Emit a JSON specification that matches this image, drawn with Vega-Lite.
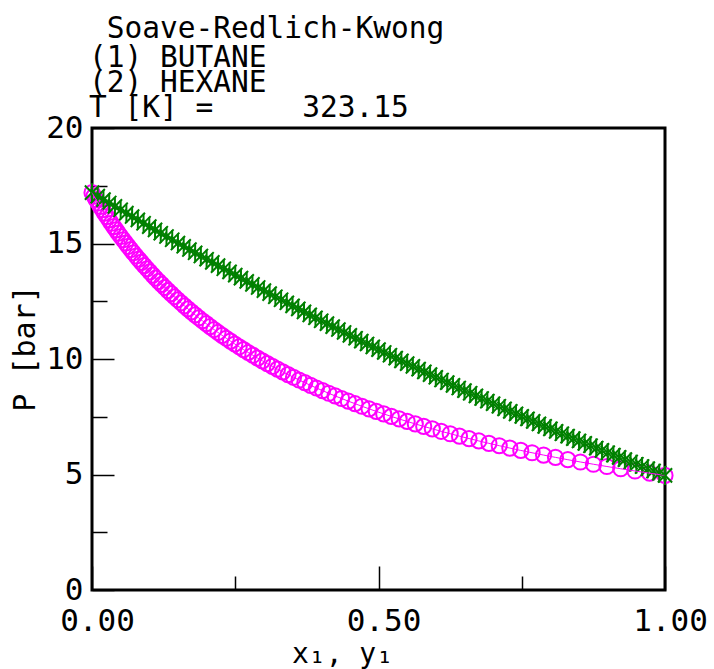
{
  "$schema": "https://vega.github.io/schema/vega-lite/v6.json",
  "width": 573,
  "height": 462,
  "autosize": {"type": "none"},
  "padding": {"left": 92, "top": 128, "right": 49, "bottom": 79},
  "background": "white",
  "title": {
    "text": "\u200b\u00a0Soave-Redlich-Kwong",
    "subtitle": ["(1) BUTANE", "(2) HEXANE", "T [K] =\u00a0\u00a0\u00a0\u00a0\u00a0323.15"],
    "anchor": "start",
    "frame": "group",
    "font": "DejaVu Sans Mono",
    "fontSize": 29.5,
    "fontWeight": "normal",
    "color": "black",
    "subtitleFont": "DejaVu Sans Mono",
    "subtitleFontSize": 29.5,
    "subtitleColor": "black",
    "subtitleLineHeight": 25,
    "subtitlePadding": -1,
    "offset": -11,
    "dx": -3
  },
  "datasets": {
    "bubble": [
      {"x1": 0.00, "P": 17.2}, {"x1": 0.01, "P": 17.051}, {"x1": 0.02, "P": 16.902}, {"x1": 0.03, "P": 16.754}, {"x1": 0.04, "P": 16.607},
      {"x1": 0.05, "P": 16.46}, {"x1": 0.06, "P": 16.313}, {"x1": 0.07, "P": 16.167}, {"x1": 0.08, "P": 16.022}, {"x1": 0.09, "P": 15.877},
      {"x1": 0.10, "P": 15.733}, {"x1": 0.11, "P": 15.589}, {"x1": 0.12, "P": 15.446}, {"x1": 0.13, "P": 15.303}, {"x1": 0.14, "P": 15.161},
      {"x1": 0.15, "P": 15.02}, {"x1": 0.16, "P": 14.879}, {"x1": 0.17, "P": 14.738}, {"x1": 0.18, "P": 14.598}, {"x1": 0.19, "P": 14.459},
      {"x1": 0.20, "P": 14.32}, {"x1": 0.21, "P": 14.182}, {"x1": 0.22, "P": 14.044}, {"x1": 0.23, "P": 13.907}, {"x1": 0.24, "P": 13.77},
      {"x1": 0.25, "P": 13.634}, {"x1": 0.26, "P": 13.498}, {"x1": 0.27, "P": 13.363}, {"x1": 0.28, "P": 13.229}, {"x1": 0.29, "P": 13.095},
      {"x1": 0.30, "P": 12.961}, {"x1": 0.31, "P": 12.828}, {"x1": 0.32, "P": 12.696}, {"x1": 0.33, "P": 12.564}, {"x1": 0.34, "P": 12.433},
      {"x1": 0.35, "P": 12.302}, {"x1": 0.36, "P": 12.172}, {"x1": 0.37, "P": 12.042}, {"x1": 0.38, "P": 11.913}, {"x1": 0.39, "P": 11.784},
      {"x1": 0.40, "P": 11.656}, {"x1": 0.41, "P": 11.529}, {"x1": 0.42, "P": 11.402}, {"x1": 0.43, "P": 11.275}, {"x1": 0.44, "P": 11.149},
      {"x1": 0.45, "P": 11.024}, {"x1": 0.46, "P": 10.899}, {"x1": 0.47, "P": 10.775}, {"x1": 0.48, "P": 10.651}, {"x1": 0.49, "P": 10.528},
      {"x1": 0.50, "P": 10.405}, {"x1": 0.51, "P": 10.283}, {"x1": 0.52, "P": 10.161}, {"x1": 0.53, "P": 10.04}, {"x1": 0.54, "P": 9.92},
      {"x1": 0.55, "P": 9.8}, {"x1": 0.56, "P": 9.68}, {"x1": 0.57, "P": 9.561}, {"x1": 0.58, "P": 9.443}, {"x1": 0.59, "P": 9.325},
      {"x1": 0.60, "P": 9.208}, {"x1": 0.61, "P": 9.091}, {"x1": 0.62, "P": 8.975}, {"x1": 0.63, "P": 8.859}, {"x1": 0.64, "P": 8.744},
      {"x1": 0.65, "P": 8.63}, {"x1": 0.66, "P": 8.516}, {"x1": 0.67, "P": 8.402}, {"x1": 0.68, "P": 8.289}, {"x1": 0.69, "P": 8.177},
      {"x1": 0.70, "P": 8.065}, {"x1": 0.71, "P": 7.954}, {"x1": 0.72, "P": 7.843}, {"x1": 0.73, "P": 7.733}, {"x1": 0.74, "P": 7.623},
      {"x1": 0.75, "P": 7.514}, {"x1": 0.76, "P": 7.405}, {"x1": 0.77, "P": 7.297}, {"x1": 0.78, "P": 7.19}, {"x1": 0.79, "P": 7.083},
      {"x1": 0.80, "P": 6.976}, {"x1": 0.81, "P": 6.87}, {"x1": 0.82, "P": 6.765}, {"x1": 0.83, "P": 6.66}, {"x1": 0.84, "P": 6.556},
      {"x1": 0.85, "P": 6.452}, {"x1": 0.86, "P": 6.349}, {"x1": 0.87, "P": 6.246}, {"x1": 0.88, "P": 6.144}, {"x1": 0.89, "P": 6.042},
      {"x1": 0.90, "P": 5.941}, {"x1": 0.91, "P": 5.841}, {"x1": 0.92, "P": 5.741}, {"x1": 0.93, "P": 5.641}, {"x1": 0.94, "P": 5.542},
      {"x1": 0.95, "P": 5.444}, {"x1": 0.96, "P": 5.346}, {"x1": 0.97, "P": 5.249}, {"x1": 0.98, "P": 5.152}, {"x1": 0.99, "P": 5.056},
      {"x1": 1.00, "P": 4.96}
    ],
    "dew": [
      {"y1": 0, "P": 17.2}, {"y1": 0.0035, "P": 17.051}, {"y1": 0.0071, "P": 16.902}, {"y1": 0.0108, "P": 16.754}, {"y1": 0.0145, "P": 16.607},
      {"y1": 0.0182, "P": 16.46}, {"y1": 0.022, "P": 16.313}, {"y1": 0.0259, "P": 16.167}, {"y1": 0.0298, "P": 16.022}, {"y1": 0.0338, "P": 15.877},
      {"y1": 0.0378, "P": 15.733}, {"y1": 0.0419, "P": 15.589}, {"y1": 0.046, "P": 15.446}, {"y1": 0.0502, "P": 15.303}, {"y1": 0.0545, "P": 15.161},
      {"y1": 0.0588, "P": 15.02}, {"y1": 0.0632, "P": 14.879}, {"y1": 0.0677, "P": 14.738}, {"y1": 0.0722, "P": 14.598}, {"y1": 0.0768, "P": 14.459},
      {"y1": 0.0815, "P": 14.32}, {"y1": 0.0862, "P": 14.182}, {"y1": 0.0911, "P": 14.044}, {"y1": 0.096, "P": 13.907}, {"y1": 0.1009, "P": 13.77},
      {"y1": 0.106, "P": 13.634}, {"y1": 0.1111, "P": 13.498}, {"y1": 0.1164, "P": 13.363}, {"y1": 0.1217, "P": 13.229}, {"y1": 0.1271, "P": 13.095},
      {"y1": 0.1325, "P": 12.961}, {"y1": 0.1381, "P": 12.828}, {"y1": 0.1438, "P": 12.696}, {"y1": 0.1495, "P": 12.564}, {"y1": 0.1554, "P": 12.433},
      {"y1": 0.1614, "P": 12.302}, {"y1": 0.1674, "P": 12.172}, {"y1": 0.1736, "P": 12.042}, {"y1": 0.1799, "P": 11.913}, {"y1": 0.1862, "P": 11.784},
      {"y1": 0.1927, "P": 11.656}, {"y1": 0.1994, "P": 11.529}, {"y1": 0.2061, "P": 11.402}, {"y1": 0.2129, "P": 11.275}, {"y1": 0.2199, "P": 11.149},
      {"y1": 0.227, "P": 11.024}, {"y1": 0.2343, "P": 10.899}, {"y1": 0.2417, "P": 10.775}, {"y1": 0.2492, "P": 10.651}, {"y1": 0.2568, "P": 10.528},
      {"y1": 0.2646, "P": 10.405}, {"y1": 0.2726, "P": 10.283}, {"y1": 0.2807, "P": 10.161}, {"y1": 0.289, "P": 10.04}, {"y1": 0.2974, "P": 9.92},
      {"y1": 0.306, "P": 9.8}, {"y1": 0.3148, "P": 9.68}, {"y1": 0.3237, "P": 9.561}, {"y1": 0.3329, "P": 9.443}, {"y1": 0.3422, "P": 9.325},
      {"y1": 0.3517, "P": 9.208}, {"y1": 0.3614, "P": 9.091}, {"y1": 0.3714, "P": 8.975}, {"y1": 0.3815, "P": 8.859}, {"y1": 0.3918, "P": 8.744},
      {"y1": 0.4024, "P": 8.63}, {"y1": 0.4132, "P": 8.516}, {"y1": 0.4243, "P": 8.402}, {"y1": 0.4356, "P": 8.289}, {"y1": 0.4472, "P": 8.177},
      {"y1": 0.459, "P": 8.065}, {"y1": 0.4711, "P": 7.954}, {"y1": 0.4835, "P": 7.843}, {"y1": 0.4961, "P": 7.733}, {"y1": 0.5091, "P": 7.623},
      {"y1": 0.5224, "P": 7.514}, {"y1": 0.536, "P": 7.405}, {"y1": 0.55, "P": 7.297}, {"y1": 0.5642, "P": 7.19}, {"y1": 0.5789, "P": 7.083},
      {"y1": 0.5939, "P": 6.976}, {"y1": 0.6093, "P": 6.87}, {"y1": 0.6251, "P": 6.765}, {"y1": 0.6413, "P": 6.66}, {"y1": 0.658, "P": 6.556},
      {"y1": 0.6751, "P": 6.452}, {"y1": 0.6927, "P": 6.349}, {"y1": 0.7107, "P": 6.246}, {"y1": 0.7292, "P": 6.144}, {"y1": 0.7483, "P": 6.042},
      {"y1": 0.768, "P": 5.941}, {"y1": 0.7881, "P": 5.841}, {"y1": 0.8089, "P": 5.741}, {"y1": 0.8304, "P": 5.641}, {"y1": 0.8524, "P": 5.542},
      {"y1": 0.8751, "P": 5.444}, {"y1": 0.8986, "P": 5.346}, {"y1": 0.9227, "P": 5.249}, {"y1": 0.9476, "P": 5.152}, {"y1": 0.9734, "P": 5.056},
      {"y1": 1.0, "P": 4.96}
    ]
  },
  "layer": [
    {
      "data": {"name": "dew"},
      "mark": {"type": "point", "shape": "circle", "filled": false, "stroke": "#ff00ff", "strokeWidth": 2, "size": 230, "opacity": 1},
      "encoding": {
        "x": {"field": "y1", "type": "quantitative", "scale": {"domain": [0, 1], "nice": false, "zero": false}, "axis": null},
        "y": {"field": "P", "type": "quantitative", "scale": {"domain": [0, 20], "nice": false}, "axis": null}
      }
    },
    {
      "data": {"name": "bubble"},
      "mark": {"type": "point", "shape": "M0,-1L0,1M-0.75,-0.75L0.75,0.75M-0.75,0.75L0.75,-0.75", "filled": false, "stroke": "#008000", "strokeWidth": 2, "size": 360, "opacity": 1},
      "encoding": {
        "x": {"field": "x1", "type": "quantitative", "axis": null},
        "y": {"field": "P", "type": "quantitative", "axis": null}
      }
    },
    {
      "data": {"name": "dew"},
      "mark": {"type": "line", "stroke": "#ff00ff", "strokeWidth": 1},
      "encoding": {
        "x": {"field": "y1", "type": "quantitative", "sort": null, "axis": {"orient": "bottom", "values": [0.25, 0.75], "tickSize": -14, "labels": false, "title": null}},
        "y": {"field": "P", "type": "quantitative", "axis": {"orient": "left", "values": [2.5, 7.5, 12.5, 17.5], "tickSize": -15, "labels": false, "title": null}}
      }
    },
    {
      "data": {"name": "bubble"},
      "mark": {"type": "line", "stroke": "#008000", "strokeWidth": 1},
      "encoding": {
        "x": {"field": "x1", "type": "quantitative", "sort": null, "axis": {"orient": "bottom", "values": [0, 0.5, 1], "format": ".2f", "tickSize": -24, "labelPadding": 40, "labelOffset": 5, "labelFlush": false, "labelAlign": "center", "labelBaseline": "top", "title": "x\u2081, y\u2081", "titleX": 250, "titleY": 72, "titleAlign": "center", "titleBaseline": "alphabetic", "titleFontSize": 28}},
        "y": {"field": "P", "type": "quantitative", "axis": {"orient": "left", "values": [0, 5, 10, 15, 20], "tickSize": -22, "labelPadding": 31, "labelAlign": "right", "labelBaseline": "middle", "title": "P [bar]", "titleX": -58, "titleY": 220, "titleAngle": -90, "titleAlign": "center", "titleBaseline": "alphabetic", "titleFontSize": 30}}
      }
    }
  ],
  "resolve": {"axis": {"x": "independent", "y": "independent"}},
  "config": {
    "view": {"stroke": "black", "strokeWidth": 3},
    "axis": {
      "grid": false,
      "domain": false,
      "ticks": true,
      "tickColor": "black",
      "tickWidth": 1.5,
      "labelFont": "DejaVu Sans Mono",
      "labelFontSize": 31,
      "labelColor": "black",
      "titleFont": "DejaVu Sans Mono",
      "titleFontWeight": "normal",
      "titleColor": "black",
      "labelOverlap": false
    }
  }
}
